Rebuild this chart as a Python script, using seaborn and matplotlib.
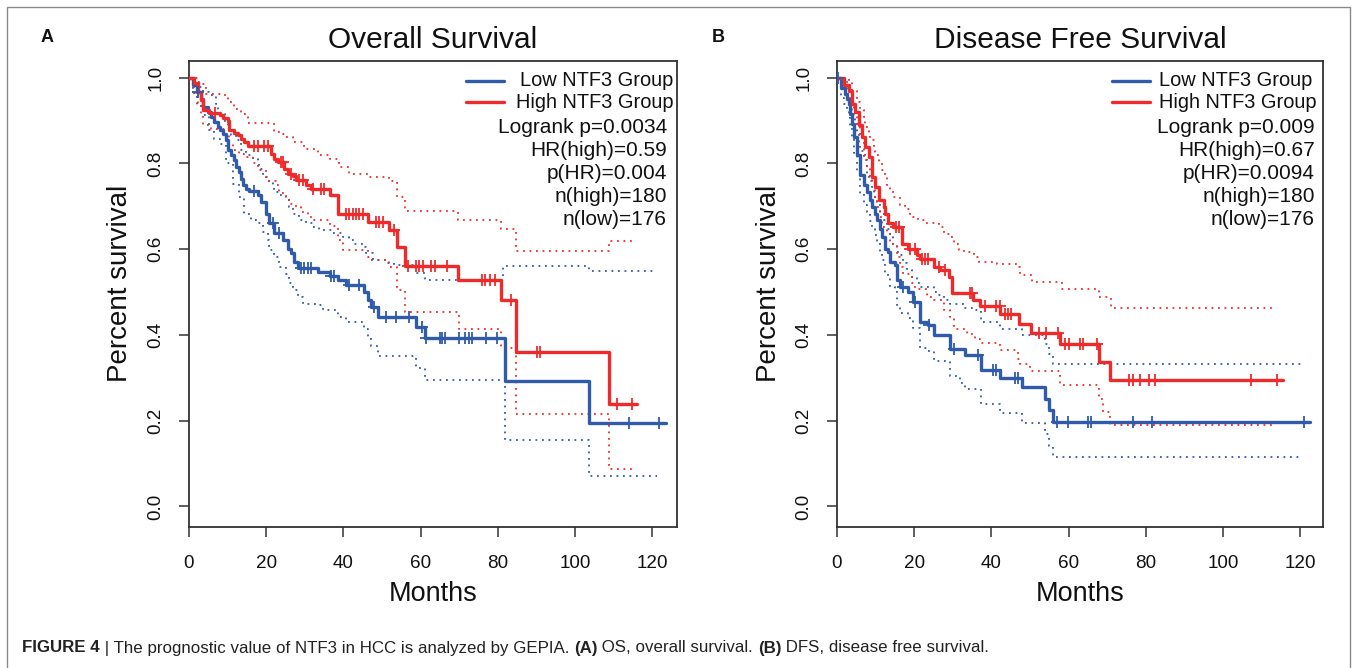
import numpy as np
import pandas as pd
import matplotlib
matplotlib.use("Agg")
import matplotlib.pyplot as plt
from matplotlib.lines import Line2D
from matplotlib.patches import Rectangle
import seaborn as sns

# ---------------- data (months, survival fraction) ----------------
# Overall survival, low NTF3 group
os_low_t = [0, 1.0, 2.0, 3.0, 3.5, 4.8, 5.7, 6.6, 7.4, 7.9, 8.7, 9.6, 10.0, 10.9, 11.7, 12.2, 13.0, 13.5,
            13.9, 14.8, 15.6, 17.8, 18.7, 20.0, 20.8, 22.1, 24.3, 25.6, 26.4, 27.3, 28.2, 33.3, 36.4, 38.5,
            40.7, 45.4, 46.3, 47.1, 48.9, 58.8, 61.0, 81.9, 103.7]
os_low_s = [1.0, 0.982, 0.966, 0.951, 0.932, 0.920, 0.908, 0.897, 0.886, 0.877, 0.868, 0.854, 0.831, 0.819,
            0.807, 0.792, 0.780, 0.764, 0.749, 0.741, 0.736, 0.726, 0.710, 0.683, 0.660, 0.638, 0.621, 0.601,
            0.590, 0.570, 0.557, 0.547, 0.537, 0.529, 0.516, 0.500, 0.481, 0.465, 0.442, 0.418, 0.393, 0.292,
            0.194]
os_low_end = 123.5
os_low_cens = [2.4, 16.9, 21.7, 23.4, 29.0, 29.9, 30.7, 31.6, 36.8, 37.6, 41.5, 44.1, 48.0, 51.0, 53.6,
               56.9, 60.3, 61.5, 64.9, 65.5, 66.4, 69.9, 71.6, 72.5, 73.4, 76.9, 79.9, 113.9, 121.7]
os_low_up_t = [0, 1.4, 2.3, 3.5, 5.3, 7.0, 7.4, 7.9, 9.2, 10.0, 10.9, 12.2, 13.5, 14.8, 16.5, 17.8, 18.2,
               19.1, 20.0, 20.8, 21.7, 22.1, 23.4, 25.1, 26.0, 26.9, 28.6, 30.3, 32.0, 33.8, 37.2, 39.8,
               41.5, 42.8, 45.0, 45.9, 47.6, 51.0, 53.0, 59.0, 61.0, 81.4, 103.7]
os_low_up_s = [1.0, 0.990, 0.978, 0.966, 0.959, 0.939, 0.924, 0.916, 0.893, 0.881, 0.866, 0.854, 0.831,
               0.819, 0.811, 0.803, 0.788, 0.776, 0.768, 0.757, 0.745, 0.733, 0.726, 0.714, 0.699, 0.683,
               0.668, 0.660, 0.652, 0.644, 0.637, 0.629, 0.621, 0.613, 0.606, 0.590, 0.574, 0.567, 0.562,
               0.545, 0.527, 0.560, 0.548]
os_low_lo_t = [0, 1.0, 2.0, 3.5, 5.3, 6.6, 7.9, 9.6, 11.3, 13.0, 14.3, 16.0, 17.8, 19.1, 20.4, 20.8, 22.1,
               23.4, 25.1, 26.0, 26.9, 28.2, 29.4, 33.8, 34.6, 38.5, 40.7, 45.4, 46.3, 47.1, 48.9, 58.8,
               61.0, 81.9, 103.7]
os_low_lo_s = [1.0, 0.965, 0.935, 0.914, 0.877, 0.858, 0.846, 0.800, 0.753, 0.722, 0.683, 0.668, 0.660,
               0.640, 0.621, 0.598, 0.582, 0.559, 0.543, 0.520, 0.504, 0.489, 0.473, 0.469, 0.458, 0.442,
               0.430, 0.415, 0.395, 0.375, 0.350, 0.322, 0.296, 0.156, 0.070]
os_low_ci_end = 121.2

# Overall survival, high NTF3 group
os_high_t = [0, 1.4, 2.3, 3.1, 3.5, 5.3, 7.9, 8.7, 10.0, 10.4, 11.7, 12.6, 13.5, 14.3, 15.2, 21.2, 22.1,
             23.0, 24.7, 25.6, 26.9, 27.7, 30.3, 31.6, 36.4, 38.5, 46.3, 51.9, 53.9, 55.9, 69.8, 80.7,
             84.8, 108.8]
os_high_s = [1.0, 0.987, 0.966, 0.947, 0.925, 0.917, 0.912, 0.907, 0.900, 0.877, 0.871, 0.866, 0.858,
             0.850, 0.840, 0.823, 0.811, 0.804, 0.788, 0.776, 0.770, 0.761, 0.749, 0.741, 0.726, 0.683,
             0.663, 0.644, 0.604, 0.560, 0.527, 0.482, 0.360, 0.240]
os_high_end = 116.0
os_high_cens = [6.8, 16.9, 17.8, 19.5, 20.4, 23.8, 24.3, 26.4, 28.6, 29.4, 32.0, 34.2, 35.0, 40.7, 41.5,
                42.4, 43.3, 44.1, 45.0, 48.5, 49.3, 50.2, 53.2, 56.7, 58.9, 59.6, 60.6, 62.8, 63.7, 66.7,
                75.8, 76.6, 77.9, 79.2, 83.3, 90.2, 90.8, 110.9, 114.8]
os_high_up_t = [0, 2.3, 3.1, 4.4, 8.7, 10.0, 11.7, 13.5, 15.2, 22.1, 24.3, 25.1, 26.9, 29.9, 33.3, 36.4,
                38.9, 41.5, 46.3, 51.9, 53.9, 55.9, 69.8, 80.7, 84.8, 108.8]
os_high_up_s = [1.0, 0.990, 0.986, 0.962, 0.959, 0.943, 0.927, 0.916, 0.895, 0.873, 0.869, 0.862, 0.850,
                0.834, 0.819, 0.811, 0.792, 0.776, 0.768, 0.760, 0.722, 0.689, 0.667, 0.646, 0.596, 0.619]
os_high_lo_t = [0, 1.4, 2.3, 3.1, 3.5, 5.7, 10.4, 11.3, 13.0, 14.3, 16.5, 17.8, 20.0, 20.8, 22.5, 23.4,
                25.1, 26.0, 27.7, 29.0, 30.7, 32.0, 36.4, 38.5, 39.9, 46.3, 47.1, 51.9, 53.9, 55.9, 69.9,
                80.8, 84.8, 108.8]
os_high_lo_s = [1.0, 0.965, 0.940, 0.915, 0.890, 0.880, 0.845, 0.831, 0.823, 0.814, 0.800, 0.784, 0.768,
                0.759, 0.749, 0.730, 0.718, 0.706, 0.699, 0.687, 0.675, 0.667, 0.655, 0.621, 0.597, 0.582,
                0.574, 0.559, 0.505, 0.454, 0.414, 0.370, 0.216, 0.087]
os_high_ci_end = 114.8

# Disease free survival, low NTF3 group
dfs_low_t = [0, 1.0, 2.1, 2.5, 3.0, 3.4, 3.8, 4.3, 5.1, 6.0, 6.9, 7.7, 8.6, 9.0, 9.9, 10.3, 11.2, 11.6,
             12.5, 13.3, 13.8, 15.1, 15.5, 16.4, 18.5, 19.8, 21.5, 23.7, 25.0, 29.3, 33.2, 37.2, 42.2,
             48.0, 53.9, 55.0, 55.9]
dfs_low_s = [1.0, 0.975, 0.963, 0.951, 0.939, 0.916, 0.893, 0.862, 0.819, 0.772, 0.749, 0.733, 0.714,
             0.699, 0.683, 0.667, 0.648, 0.629, 0.601, 0.594, 0.570, 0.563, 0.528, 0.512, 0.500, 0.477,
             0.430, 0.423, 0.400, 0.368, 0.353, 0.319, 0.300, 0.278, 0.251, 0.225, 0.196]
dfs_low_end = 122.5
dfs_low_cens = [0.3, 17.0, 20.3, 23.9, 30.2, 36.6, 40.5, 41.2, 46.1, 47.0, 56.9, 59.9, 65.1, 65.7, 76.6,
                81.6, 121.0]
dfs_low_up_t = [0, 0.8, 2.1, 3.0, 3.4, 3.8, 4.7, 5.1, 5.6, 6.0, 6.9, 7.7, 8.2, 9.0, 9.5, 10.3, 11.2, 12.1,
                12.9, 13.8, 14.6, 15.5, 16.4, 17.2, 18.1, 19.4, 20.7, 21.5, 25.0, 25.9, 27.6, 29.3, 32.8,
                35.4, 37.2, 42.2, 47.9, 53.9, 55.0, 55.9]
dfs_low_up_s = [1.0, 0.995, 0.978, 0.970, 0.951, 0.924, 0.900, 0.869, 0.850, 0.830, 0.807, 0.776, 0.760,
                0.745, 0.722, 0.706, 0.683, 0.667, 0.648, 0.629, 0.613, 0.594, 0.586, 0.567, 0.551, 0.536,
                0.520, 0.512, 0.500, 0.493, 0.481, 0.473, 0.462, 0.458, 0.430, 0.415, 0.399, 0.380, 0.356,
                0.333]
dfs_low_lo_t = [0, 1.0, 1.7, 2.5, 3.0, 3.4, 3.8, 4.3, 5.1, 6.0, 6.9, 7.7, 8.6, 9.0, 9.9, 10.3, 11.2, 11.6,
                12.5, 13.3, 13.8, 15.1, 15.5, 16.4, 18.5, 19.8, 21.5, 23.7, 25.0, 29.3, 31.9, 33.2, 37.2,
                42.2, 48.0, 53.9, 55.0, 55.9]
dfs_low_lo_s = [1.0, 0.952, 0.938, 0.925, 0.910, 0.885, 0.858, 0.825, 0.778, 0.728, 0.703, 0.686, 0.666,
                0.650, 0.632, 0.614, 0.594, 0.574, 0.545, 0.537, 0.512, 0.504, 0.469, 0.452, 0.440, 0.416,
                0.370, 0.362, 0.340, 0.305, 0.288, 0.273, 0.240, 0.219, 0.195, 0.170, 0.140, 0.116]
dfs_low_ci_end = 120.4

# Disease free survival, high NTF3 group
dfs_high_t = [0, 1.7, 3.0, 3.8, 4.7, 5.6, 6.4, 7.3, 8.2, 9.0, 9.9, 10.8, 12.1, 12.5, 13.3, 14.6, 16.8,
              18.5, 20.7, 21.5, 25.0, 26.7, 28.9, 29.7, 35.2, 37.0, 42.2, 47.2, 50.2, 57.8, 67.8, 70.8]
dfs_high_s = [1.0, 0.982, 0.970, 0.939, 0.920, 0.889, 0.862, 0.838, 0.815, 0.768, 0.745, 0.714, 0.699,
              0.683, 0.660, 0.652, 0.613, 0.601, 0.586, 0.578, 0.559, 0.551, 0.536, 0.498, 0.481, 0.467,
              0.450, 0.426, 0.405, 0.380, 0.338, 0.296]
dfs_high_end = 115.6
dfs_high_cens = [15.2, 16.0, 19.0, 20.3, 22.0, 22.8, 23.7, 26.3, 28.0, 34.4, 35.0, 38.3, 41.2, 42.1, 43.5,
                 44.4, 45.2, 52.2, 54.1, 57.3, 59.1, 60.0, 63.0, 63.8, 67.3, 75.7, 76.6, 78.5, 80.7, 82.4,
                 107.2, 113.9]
dfs_high_up_t = [0, 3.0, 3.8, 5.1, 6.0, 6.9, 7.3, 8.2, 8.6, 9.5, 9.9, 10.8, 11.6, 12.5, 12.9, 13.8, 14.6,
                 16.4, 17.7, 19.0, 19.8, 21.1, 22.8, 26.3, 27.6, 29.3, 30.2, 31.5, 32.8, 35.4, 36.7, 41.4,
                 47.0, 47.4, 50.4, 58.2, 67.8, 71.1]
dfs_high_up_s = [1.0, 0.990, 0.970, 0.943, 0.924, 0.908, 0.885, 0.869, 0.854, 0.830, 0.819, 0.803, 0.784,
                 0.768, 0.749, 0.737, 0.722, 0.702, 0.694, 0.683, 0.675, 0.667, 0.660, 0.652, 0.636, 0.629,
                 0.613, 0.597, 0.594, 0.582, 0.570, 0.566, 0.558, 0.539, 0.524, 0.506, 0.489, 0.464]
dfs_high_lo_t = [0, 2.5, 3.4, 4.3, 5.1, 6.0, 6.9, 7.3, 7.7, 8.6, 9.0, 9.9, 10.3, 11.2, 11.6, 12.9, 13.8,
                 15.5, 16.4, 17.2, 19.4, 20.3, 23.3, 25.0, 27.6, 29.3, 30.2, 33.6, 35.8, 37.0, 42.2, 47.0,
                 47.4, 50.0, 57.8, 67.8, 69.0, 70.8]
dfs_high_lo_s = [1.0, 0.963, 0.932, 0.916, 0.893, 0.862, 0.830, 0.807, 0.792, 0.768, 0.753, 0.722, 0.699,
                 0.675, 0.652, 0.637, 0.613, 0.582, 0.559, 0.543, 0.520, 0.508, 0.489, 0.481, 0.458, 0.442,
                 0.415, 0.403, 0.391, 0.381, 0.364, 0.345, 0.333, 0.316, 0.284, 0.250, 0.220, 0.190]
dfs_high_ci_end = 113.0

# annotation text
group_labels = ["Low NTF3 Group", "High NTF3 Group"]
os_stats = ["Logrank p=0.0034", "HR(high)=0.59", "p(HR)=0.004", "n(high)=180", "n(low)=176"]
dfs_stats = ["Logrank p=0.009", "HR(high)=0.67", "p(HR)=0.0094", "n(high)=180", "n(low)=176"]
panel_titles = ["Overall Survival", "Disease Free Survival"]
x_ticks = [0, 20, 40, 60, 80, 100, 120]
y_ticks = [0.0, 0.2, 0.4, 0.6, 0.8, 1.0]

# ---------------- style ----------------
sns.set_theme(style="white")
plt.rcParams["font.family"] = ["Liberation Sans", "DejaVu Sans"]

W, H = 1357, 668
BLUE = "#2F5BAA"
RED = "#F02A2A"
DOT = (0, (1.0, 2.6))


def fx(px):
    return px / W


def fy(py):
    return 1 - py / H


def step_frame(t, s, end):
    return pd.DataFrame({"Months": list(t) + [end], "Survival": list(s) + [s[-1]]})


def value_at(t, s, when):
    idx = np.searchsorted(np.asarray(t), np.asarray(when), side="right") - 1
    return np.asarray(s)[idx]


def draw_curve(ax, t, s, end, cens, color):
    sns.lineplot(data=step_frame(t, s, end), x="Months", y="Survival", drawstyle="steps-post",
                 color=color, linewidth=2.4, estimator=None, sort=False, ax=ax, zorder=3)
    cdf = pd.DataFrame({"Months": cens, "Survival": value_at(t, s, cens)})
    sns.scatterplot(data=cdf, x="Months", y="Survival", marker="+", s=80, color=color,
                    linewidth=1.3, ax=ax, zorder=4)


def draw_band(ax, t, s, end, color):
    sns.lineplot(data=step_frame(t, s, end), x="Months", y="Survival", drawstyle="steps-post",
                 color=color, linewidth=1.3, linestyle=DOT, estimator=None, sort=False, ax=ax, zorder=2)


fig = plt.figure(figsize=(W / 100, H / 100), dpi=100)

box_top, box_bot = 61, 527
ax_os = fig.add_axes([fx(189), fy(box_bot), (677 - 189) / W, (box_bot - box_top) / H])
ax_dfs = fig.add_axes([fx(837), fy(box_bot), (1323 - 837) / W, (box_bot - box_top) / H])

panels = [
    (ax_os, dict(low=(os_low_t, os_low_s, os_low_end, os_low_cens),
                 high=(os_high_t, os_high_s, os_high_end, os_high_cens),
                 low_ci=(os_low_up_t, os_low_up_s, os_low_lo_t, os_low_lo_s, os_low_ci_end),
                 high_ci=(os_high_up_t, os_high_up_s, os_high_lo_t, os_high_lo_s, os_high_ci_end)),
     126.4),
    (ax_dfs, dict(low=(dfs_low_t, dfs_low_s, dfs_low_end, dfs_low_cens),
                  high=(dfs_high_t, dfs_high_s, dfs_high_end, dfs_high_cens),
                  low_ci=(dfs_low_up_t, dfs_low_up_s, dfs_low_lo_t, dfs_low_lo_s, dfs_low_ci_end),
                  high_ci=(dfs_high_up_t, dfs_high_up_s, dfs_high_lo_t, dfs_high_lo_s, dfs_high_ci_end)),
     125.9),
]

for ax, d, xmax in panels:
    ut, us, lt, ls_, ce = d["low_ci"]
    draw_band(ax, ut, us, ce, BLUE)
    draw_band(ax, lt, ls_, ce, BLUE)
    ut, us, lt, ls_, ce = d["high_ci"]
    draw_band(ax, ut, us, ce, RED)
    draw_band(ax, lt, ls_, ce, RED)
    draw_curve(ax, *d["low"], BLUE)
    draw_curve(ax, *d["high"], RED)

    ax.set_xlim(0, xmax)
    ax.set_ylim(-0.048, 1.039)
    ax.set_xticks(x_ticks)
    ax.set_xticklabels([str(v) for v in x_ticks])
    ax.set_yticks(y_ticks)
    ax.set_yticklabels([f"{v:.1f}" for v in y_ticks])
    ax.tick_params(axis="both", direction="out", length=7.5, width=1.1, color="#333333",
                   labelsize=13.6, labelcolor="#111111", bottom=True, left=True)
    ax.tick_params(axis="x", pad=13)
    ax.tick_params(axis="y", pad=10, labelrotation=90)
    for lab in ax.get_yticklabels():
        lab.set_va("center")
    for sp in ax.spines.values():
        sp.set_visible(True)
        sp.set_linewidth(1.3)
        sp.set_color("#333333")
    ax.set_xlabel("Months", fontsize=19.5, color="#111111")
    ax.set_ylabel("Percent survival", fontsize=20, color="#111111")
    ax.xaxis.set_label_coords(0.5, -0.116)
    ax.yaxis.set_label_coords(-0.114, 0.522)
    ax.grid(False)

# titles and panel letters
fig.text(fx(433), fy(40), panel_titles[0], ha="center", va="center", fontsize=21.5, color="#111111")
fig.text(fx(1080), fy(40), panel_titles[1], ha="center", va="center", fontsize=21.5, color="#111111")
fig.text(fx(47), fy(37), "A", ha="center", va="center", fontsize=13, fontweight="bold", color="#111111")
fig.text(fx(718), fy(37), "B", ha="center", va="center", fontsize=13, fontweight="bold", color="#111111")

# legends and statistics
row_y = [81, 102, 127.5, 151, 173.5, 196.5, 219]


def legend_block(line_x0, line_x1, text_x, text_ha, stat_x, stats):
    for (lab, col, y) in zip(group_labels, [BLUE, RED], row_y[:2]):
        fig.add_artist(Line2D([fx(line_x0), fx(line_x1)], [fy(y), fy(y)], color=col, lw=2.4,
                              transform=fig.transFigure))
        fig.text(fx(text_x), fy(y), lab, ha=text_ha, va="center", fontsize=14.4, color="#111111")
    for st, y in zip(stats, row_y[2:]):
        fig.text(fx(stat_x), fy(y), st, ha="right", va="center", fontsize=15.0, color="#111111")


legend_block(466, 504, 673, "right", 667, os_stats)
legend_block(1112, 1150, 1159, "left", 1315, dfs_stats)

# caption
renderer = fig.canvas.get_renderer()
cap_parts = [("FIGURE 4", "bold"), (" | The prognostic value of NTF3 in HCC is analyzed by GEPIA. ", "normal"),
             ("(A)", "bold"), (" OS, overall survival. ", "normal"), ("(B)", "bold"),
             (" DFS, disease free survival.", "normal")]
x_cur = 22
for txt, wt in cap_parts:
    t = fig.text(fx(x_cur), fy(648), txt, ha="left", va="center", fontsize=12.2, fontweight=wt,
                 color="#222222")
    bb = t.get_window_extent(renderer=renderer)
    x_cur += bb.width

# outer frame
fig.add_artist(Rectangle((fx(7), fy(700)), (1350 - 7) / W, (700 - 7) / H, transform=fig.transFigure,
                         fill=False, edgecolor="#8a8a8a", linewidth=1.0))

fig.savefig("out.png", dpi=100)
